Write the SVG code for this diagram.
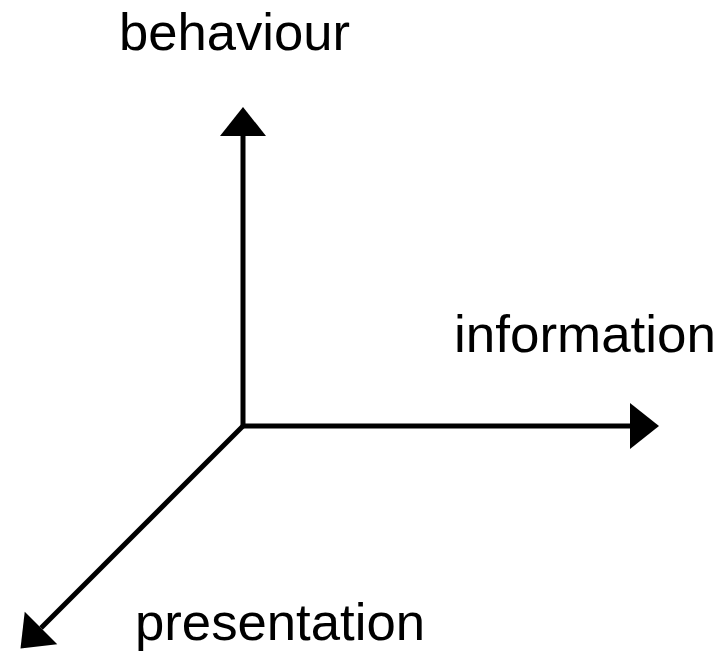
<svg xmlns="http://www.w3.org/2000/svg" width="726" height="652" viewBox="0 0 726 652">
<style>
.axis{fill:none;stroke:#000;stroke-width:5;marker-end:url(#head)}
.lbl{font-family:"Liberation Sans",Arial,sans-serif;font-size:52px;fill:#000}
</style>
<defs>
<marker id="head" markerUnits="userSpaceOnUse" markerWidth="30" markerHeight="48" refX="0" refY="23" orient="auto" overflow="visible">
<path d="M0,0 L29,23 L0,46 Z" fill="#000"/>
</marker>
</defs>
<rect width="726" height="652" fill="#fff"/>
<g id="connectors">
<path class="axis" d="M243,428 V136"/>
<path class="axis" d="M241,426 H630"/>
<path class="axis" d="M244,425 L41,628"/>
</g>
<g id="behaviour"><text class="lbl" x="119" y="50" textLength="231" lengthAdjust="spacingAndGlyphs">behaviour</text></g>
<g id="information"><text class="lbl" x="454" y="352" textLength="262" lengthAdjust="spacingAndGlyphs">information</text></g>
<g id="presentation"><text class="lbl" x="135" y="640" textLength="290" lengthAdjust="spacingAndGlyphs">presentation</text></g>
</svg>
